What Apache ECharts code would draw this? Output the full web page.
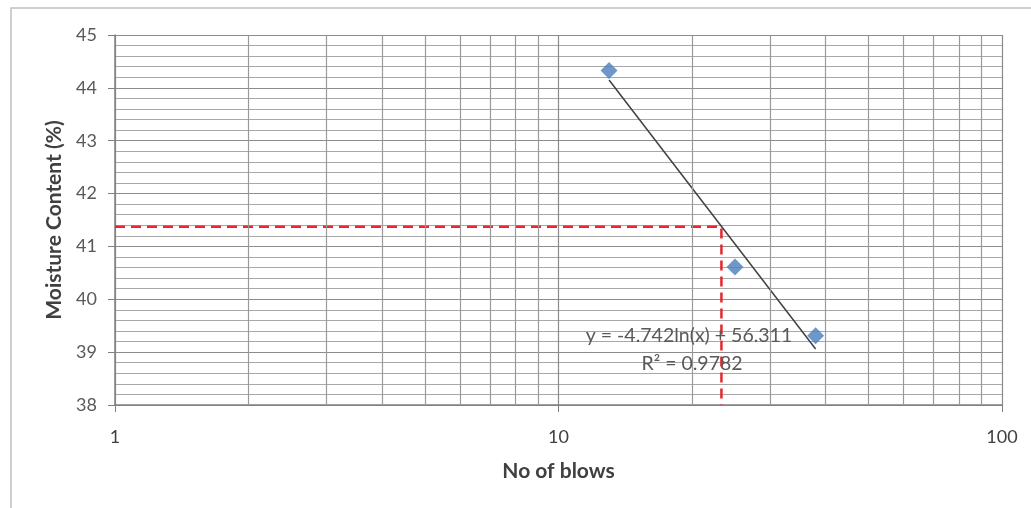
<!DOCTYPE html>
<html><head><meta charset="utf-8">
<script src="https://cdn.jsdelivr.net/npm/echarts@6/dist/echarts.min.js"></script>
<style>html,body{margin:0;padding:0;background:#fff}#c{width:1031px;height:508px}</style>
</head><body><div id="c"></div>
<script>
// Data
const blows = [13, 25, 38];
const moisture = [44.33, 40.61, 39.31];
const trendX = [13, 38];
const trendY = [44.15, 39.06];
const llX = [1, 23.3, 23.3];
const llY = [41.37, 41.37, 38];
const xMinorGrid = [2, 3, 4, 5, 6, 7, 8, 9, 20, 30, 40, 50, 60, 70, 80, 90];
const eqText = 'y = -4.742ln(x) + 56.311';
const r2Text = 'R² = 0.9782';

const font = 'Lato, "Open Sans", sans-serif';
const chart = echarts.init(document.getElementById('c'), null, {renderer: 'canvas'});
chart.setOption({
  animation: false,
  backgroundColor: '#fff',
  grid: {left: 115, right: 29, top: 35, bottom: 103},
  xAxis: {
    type: 'log', logBase: 10, min: 1, max: 100,
    name: 'No of blows', nameLocation: 'middle', nameGap: 56,
    nameTextStyle: {fontFamily: font, fontSize: 21, fontWeight: 'bold', color: '#404040'},
    axisLine: {show: true, lineStyle: {color: '#808080', width: 1.5}},
    axisTick: {show: true, length: 7, inside: false, lineStyle: {color: '#808080'}},
    axisLabel: {margin: 23, fontFamily: font, fontSize: 18, color: '#404040'},
    splitLine: {show: true, lineStyle: {color: '#8a8a8a', width: 1.2}},
    minorTick: {show: false}, minorSplitLine: {show: false}
  },
  yAxis: {
    type: 'value', min: 38, max: 45, interval: 1,
    name: 'Moisture Content (%)', nameLocation: 'middle', nameGap: 50,
    nameTextStyle: {fontFamily: font, fontSize: 21, fontWeight: 'bold', color: '#404040'},
    axisLine: {show: true, lineStyle: {color: '#808080', width: 1.5}},
    axisTick: {show: true, length: 7, lineStyle: {color: '#808080'}},
    axisLabel: {margin: 18, fontFamily: font, fontSize: 18, color: '#595959'},
    splitLine: {show: true, lineStyle: {color: '#8c8c8c', width: 1.2}},
    minorTick: {show: false, splitNumber: 5},
    minorSplitLine: {show: true, lineStyle: {color: '#a8a8a8', width: 1.2}}
  },
  series: [
    {
      type: 'line', data: llX.map((x, i) => [x, llY[i]]), symbol: 'none', z: 3,
      lineStyle: {color: '#e8262b', width: 2.5, type: [10, 6]},
      markLine: {
        silent: true, symbol: 'none', label: {show: false},
        lineStyle: {color: '#9a9a9a', width: 1.2, type: 'solid'},
        data: xMinorGrid.map(v => ({xAxis: v}))
      }
    },
    {
      type: 'line', data: trendX.map((x, i) => [x, trendY[i]]), symbol: 'none', z: 4,
      lineStyle: {color: '#404040', width: 1.5}
    },
    {
      type: 'scatter', data: blows.map((x, i) => [x, moisture[i]]), z: 5,
      symbol: 'diamond', symbolSize: [17, 17],
      itemStyle: {color: '#4a7ebb'}
    }
  ],
  graphic: [
    {type: 'rect', shape: {x: 11, y: 8, width: 1030, height: 510}, style: {fill: 'none', stroke: '#c0c0c0', lineWidth: 1.5}, silent: true},
    {type: 'text', x: 689, y: 336, style: {text: eqText, fontFamily: font, fontSize: 19.5, fill: '#595959', align: 'center', verticalAlign: 'middle'}, z: 10},
    {type: 'text', x: 692, y: 364, style: {text: r2Text, fontFamily: font, fontSize: 19.5, fill: '#595959', align: 'center', verticalAlign: 'middle'}, z: 10}
  ]
});
</script></body></html>
